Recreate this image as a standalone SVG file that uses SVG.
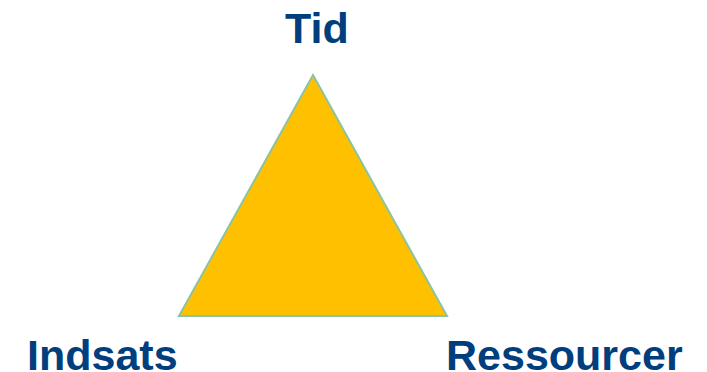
<svg xmlns="http://www.w3.org/2000/svg" width="707" height="372" viewBox="0 0 707 372">
  <style>
    .label { font-family: "Liberation Sans", Arial, sans-serif; font-weight: bold; font-size: 43px; fill: #003E7E; }
    .tri { fill: #FFC000; stroke: #8CC3A0; stroke-width: 2; stroke-linejoin: miter; }
  </style>
  <rect width="707" height="372" fill="#FFFFFF"/>
  <g id="triangle">
    <polygon class="tri" points="313,75 447,316 179,316"/>
  </g>
  <g id="tid">
    <text class="label" x="285" y="43">Tid</text>
  </g>
  <g id="indsats">
    <text class="label" x="27" y="370">Indsats</text>
  </g>
  <g id="ressourcer">
    <text class="label" x="446" y="370">Ressourcer</text>
  </g>
</svg>
